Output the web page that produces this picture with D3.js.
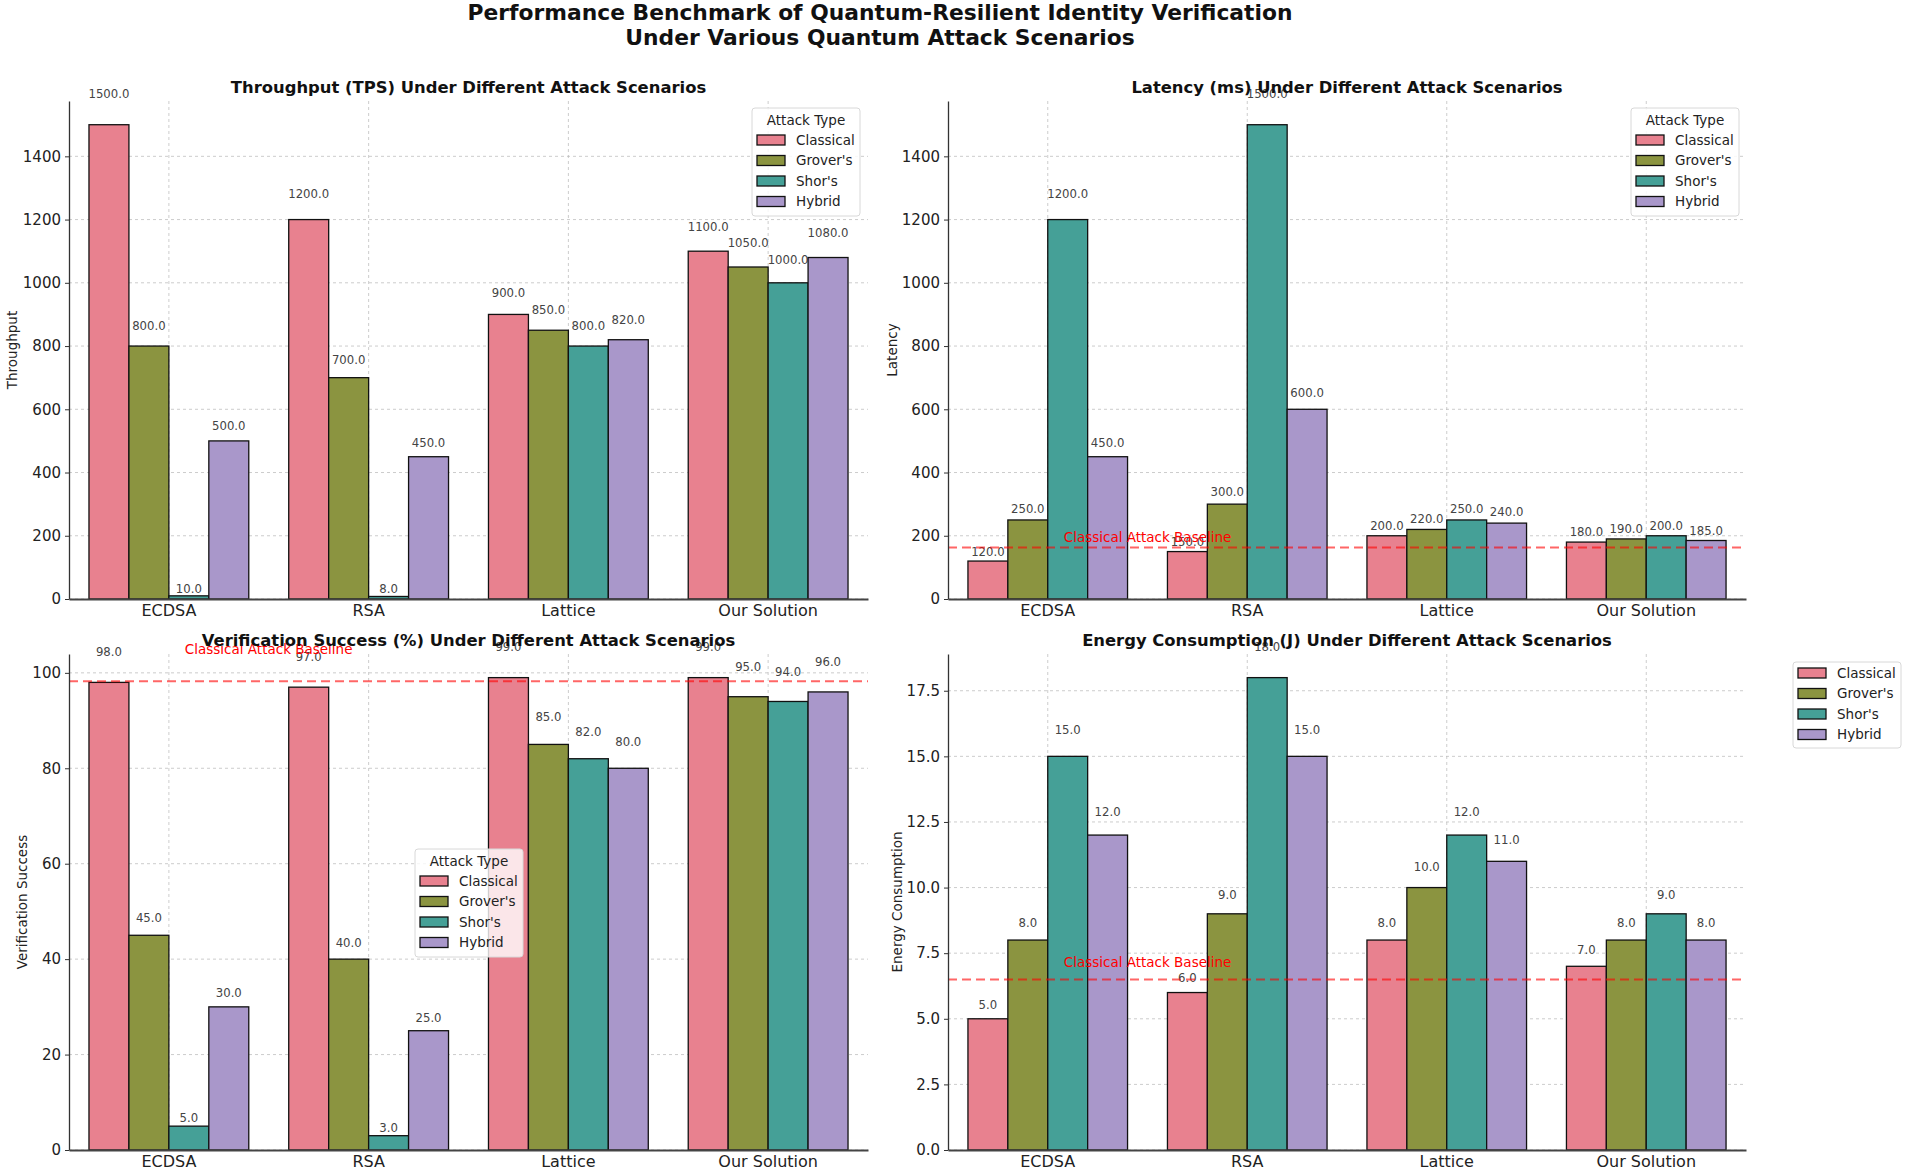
<!DOCTYPE html>
<html><head><meta charset="utf-8">
<script src="https://cdn.jsdelivr.net/npm/d3@7/dist/d3.min.js"></script>
<style>body{margin:0;background:#fff;}svg{display:block;font-family:"DejaVu Sans",sans-serif;}</style>
</head><body>
<script>
const categories = ["ECDSA", "RSA", "Lattice", "Our Solution"];
const attackTypes = ["Classical", "Grover's", "Shor's", "Hybrid"];
const colors = ["#e8818f", "#8b9440", "#45a097", "#a997ca"];

const throughputClassical = [1500, 1200, 900, 1100];
const throughputGrover = [800, 700, 850, 1050];
const throughputShor = [10, 8, 800, 1000];
const throughputHybrid = [500, 450, 820, 1080];

const latencyClassical = [120, 150, 200, 180];
const latencyGrover = [250, 300, 220, 190];
const latencyShor = [1200, 1500, 250, 200];
const latencyHybrid = [450, 600, 240, 185];

const successClassical = [98, 97, 99, 99];
const successGrover = [45, 40, 85, 95];
const successShor = [5, 3, 82, 94];
const successHybrid = [30, 25, 80, 96];

const energyClassical = [5, 6, 8, 7];
const energyGrover = [8, 9, 10, 8];
const energyShor = [15, 18, 12, 9];
const energyHybrid = [12, 15, 11, 8];

const throughputTicks = [0, 200, 400, 600, 800, 1000, 1200, 1400];
const latencyTicks = [0, 200, 400, 600, 800, 1000, 1200, 1400];
const successTicks = [0, 20, 40, 60, 80, 100];
const energyTicks = [0, 2.5, 5, 7.5, 10, 12.5, 15, 17.5];

const W = 1905, H = 1172;
const svg = d3.select("body").append("svg").attr("width", W).attr("height", H);

svg.append("text").attr("x", 880).attr("y", 20).attr("text-anchor", "middle")
  .attr("font-size", 21.8).attr("font-weight", "bold").attr("fill", "#111")
  .text("Performance Benchmark of Quantum-Resilient Identity Verification");
svg.append("text").attr("x", 880).attr("y", 45).attr("text-anchor", "middle")
  .attr("font-size", 21.8).attr("font-weight", "bold").attr("fill", "#111")
  .text("Under Various Quantum Attack Scenarios");

const panels = [
  { title: "Throughput (TPS) Under Different Attack Scenarios", ylabel: "Throughput",
    series: [throughputClassical, throughputGrover, throughputShor, throughputHybrid],
    ticks: throughputTicks, fmt: d3.format("d"), x0: 69, x1: 868, top: 101, bottom: 599,
    ylabX: 12, baseline: false, legend: { x: 752, y: 108, title: true } },
  { title: "Latency (ms) Under Different Attack Scenarios", ylabel: "Latency",
    series: [latencyClassical, latencyGrover, latencyShor, latencyHybrid],
    ticks: latencyTicks, fmt: d3.format("d"), x0: 948, x1: 1746, top: 101, bottom: 599,
    ylabX: 892, baseline: true, baseF: 1.11, legend: { x: 1631, y: 108, title: true } },
  { title: "Verification Success (%) Under Different Attack Scenarios", ylabel: "Verification Success",
    series: [successClassical, successGrover, successShor, successHybrid],
    ticks: successTicks, fmt: d3.format("d"), x0: 69, x1: 868, top: 654, bottom: 1150,
    ylabX: 22, baseline: true, baseF: 1.058, legend: { x: 415, y: 849, title: true, alpha: 0.8 } },
  { title: "Energy Consumption (J) Under Different Attack Scenarios", ylabel: "Energy Consumption",
    series: [energyClassical, energyGrover, energyShor, energyHybrid],
    ticks: energyTicks, fmt: d3.format(".1f"), x0: 948, x1: 1746, top: 654, bottom: 1150,
    ylabX: 897, baseline: true, baseF: 1.07, legend: { x: 1793, y: 662, title: false } }
];

panels.forEach(p => {
  const g = svg.append("g");
  const maxV = d3.max(p.series.flat());
  const y = d3.scaleLinear().domain([0, maxV * 1.05]).range([p.bottom, p.top]);
  const x = d3.scaleBand().domain(categories).range([p.x0, p.x1]).paddingInner(0).paddingOuter(0);
  const bw = x.bandwidth();
  const xs = d3.scaleBand().domain(attackTypes).range([bw * 0.1, bw * 0.9]);

  // grid
  g.append("g").selectAll("line").data(p.ticks).join("line")
    .attr("x1", p.x0).attr("x2", p.x1).attr("y1", d => y(d)).attr("y2", d => y(d))
    .attr("stroke", "#b8b8b8").attr("stroke-width", 1).attr("stroke-dasharray", "3,3").attr("opacity", 0.7);
  g.append("g").selectAll("line").data(categories).join("line")
    .attr("x1", d => x(d) + bw / 2).attr("x2", d => x(d) + bw / 2).attr("y1", p.top).attr("y2", p.bottom)
    .attr("stroke", "#b8b8b8").attr("stroke-width", 1).attr("stroke-dasharray", "3,3").attr("opacity", 0.7);

  // bars
  attackTypes.forEach((a, si) => {
    const vals = p.series[si];
    const sg = g.append("g");
    sg.selectAll("rect").data(vals).join("rect")
      .attr("x", (d, i) => x(categories[i]) + xs(a))
      .attr("y", d => y(d))
      .attr("width", xs.bandwidth())
      .attr("height", d => y(0) - y(d))
      .attr("fill", colors[si]).attr("stroke", "#111").attr("stroke-width", 1.3);
    sg.selectAll("text").data(vals).join("text")
      .attr("x", (d, i) => x(categories[i]) + xs(a) + xs.bandwidth() / 2)
      .attr("y", d => y(d * 1.05) - 3)
      .attr("text-anchor", "middle").attr("font-size", 11.7).attr("fill", "#444")
      .text(d => d3.format(".1f")(d));
  });

  // baseline
  if (p.baseline) {
    const b = d3.mean(p.series[0]);
    g.append("line").attr("x1", p.x0).attr("x2", p.x1).attr("y1", y(b)).attr("y2", y(b))
      .attr("stroke", "#ff0000").attr("stroke-opacity", 0.6).attr("stroke-width", 2)
      .attr("stroke-dasharray", "9,5");
    g.append("text").attr("x", x(categories[0]) + bw * 0.58)
      .attr("y", y(b * p.baseF)).attr("font-size", 13.5).attr("fill", "#ff0000")
      .text("Classical Attack Baseline");
  }

  // axes
  const ya = d3.axisLeft(y).tickValues(p.ticks).tickFormat(p.fmt).tickSize(4).tickSizeOuter(0).tickPadding(4);
  const yg = g.append("g").attr("transform", `translate(${p.x0},0)`).call(ya);
  yg.select(".domain").attr("stroke", "#333").attr("stroke-width", 1.3);
  yg.selectAll(".tick line").attr("stroke", "#333");
  yg.selectAll(".tick text").attr("font-size", 15).attr("fill", "#222").attr("font-family", "DejaVu Sans");

  const xa = d3.axisBottom(x).tickSize(0).tickSizeOuter(0).tickPadding(6);
  const xg = g.append("g").attr("transform", `translate(0,${p.bottom})`).call(xa);
  xg.select(".domain").attr("stroke", "#444").attr("stroke-width", 2);
  xg.selectAll(".tick text").attr("font-size", 16).attr("fill", "#222").attr("font-family", "DejaVu Sans");

  // titles
  g.append("text").attr("x", (p.x0 + p.x1) / 2).attr("y", p.top - 8).attr("text-anchor", "middle")
    .attr("font-size", 16.4).attr("font-weight", "bold").attr("fill", "#111").text(p.title);
  g.append("text").attr("transform", `translate(${p.ylabX},${(p.top + p.bottom) / 2}) rotate(-90)`)
    .attr("text-anchor", "middle").attr("font-size", 13.5).attr("fill", "#222").attr("dy", "0.35em").text(p.ylabel);

  // legend
  const L = p.legend;
  const lw = 108, lh = L.title ? 108 : 86;
  const lg = svg.append("g").attr("transform", `translate(${L.x},${L.y})`);
  lg.append("rect").attr("width", lw).attr("height", lh).attr("rx", 3)
    .attr("fill", "#fff").attr("fill-opacity", L.alpha || 0.85).attr("stroke", "#d8d8d8");
  let off = 0;
  if (L.title) {
    lg.append("text").attr("x", lw / 2).attr("y", 12).attr("dy", "0.35em").attr("text-anchor", "middle")
      .attr("font-size", 13.5).attr("fill", "#222").text("Attack Type");
    off = 21;
  }
  attackTypes.forEach((a, i) => {
    const cy = 11 + off + i * 20.5;
    lg.append("rect").attr("x", 5).attr("y", cy - 5).attr("width", 28).attr("height", 10)
      .attr("fill", colors[i]).attr("stroke", "#111").attr("stroke-width", 1.3);
    lg.append("text").attr("x", 44).attr("y", cy).attr("dy", "0.35em")
      .attr("font-size", 13.5).attr("fill", "#222").text(a);
  });
});
</script>
</body></html>
